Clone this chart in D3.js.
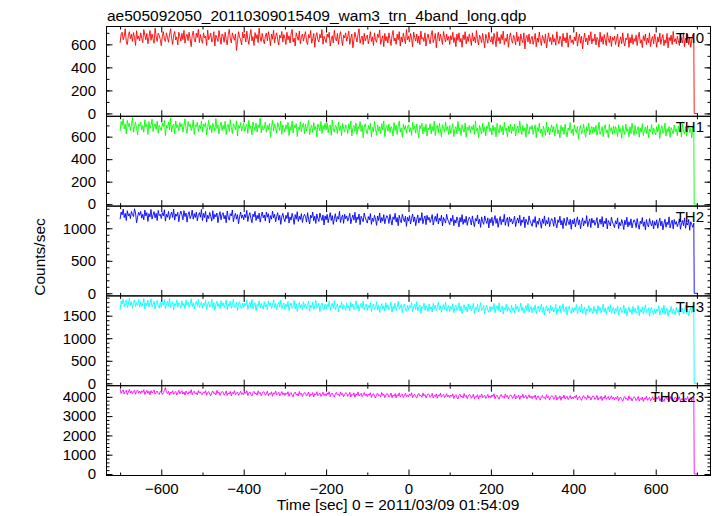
<!DOCTYPE html>
<html><head><meta charset="utf-8">
<script src="https://cdn.jsdelivr.net/npm/d3@7"></script>
<style>
body{margin:0;background:#fff}
svg{display:block}
</style></head>
<body><svg id="c" width="717" height="516"></svg>
<script>
const title = "ae505092050_20110309015409_wam3_trn_4band_long.qdp";
const xLabel = "Time [sec] 0 = 2011/03/09 01:54:09";
const yLabel = "Counts/sec";
const bands = ["TH0", "TH1", "TH2", "TH3", "TH0123"];
const colors = ["#ff0000", "#00ff00", "#0000ff", "#00ffff", "#ff00ff"];

// light-curve bins: start -700 s, 2.5 s apart; the last two values (0) are the drop at the end
const binStart = -700, binStep = 2.5, tailTimes = [693.5, 702];

const th0 = [
612,690,705,640,668,735,622,598,675,710,650,688,625,702,660,590,718,645,672,630,
700,655,615,728,680,640,695,605,662,720,635,690,648,610,740,665,625,698,678,642,
588,672,710,645,625,700,660,618,690,735,652,600,680,712,638,665,595,705,670,628,
695,640,722,610,668,688,632,705,650,580,675,715,645,620,698,660,730,615,685,640,
610,700,655,672,590,725,640,662,698,620,645,710,585,680,655,625,720,660,600,690,
672,618,705,640,595,685,730,650,612,700,662,635,690,548,628,710,665,640,595,705,
655,690,620,715,645,600,680,728,630,668,590,702,650,685,615,740,660,625,695,640,
605,672,698,630,710,658,588,690,645,722,615,668,700,638,595,680,655,712,620,685,
650,598,705,640,675,612,690,730,620,655,585,700,668,635,715,605,660,690,628,672,
710,630,598,685,655,720,610,648,695,575,668,702,640,620,688,655,728,600,670,645,
615,690,660,705,585,640,675,612,722,650,630,695,600,668,710,642,590,680,655,700,
628,668,715,600,652,690,570,640,705,660,620,685,735,610,648,672,598,695,630,660,
680,605,650,710,625,665,590,700,640,618,690,660,725,600,645,675,580,695,630,668,
612,700,645,590,675,720,630,655,600,688,640,710,585,665,620,698,650,605,728,640,
670,620,695,648,580,705,660,628,690,612,672,598,715,645,660,625,700,585,655,690,
640,605,680,720,615,650,695,570,665,705,628,688,645,600,712,658,620,690,635,668,
598,675,640,705,615,660,580,690,635,700,620,652,575,682,640,710,605,668,625,690,
650,590,700,628,665,612,720,640,595,680,655,615,695,632,570,688,650,610,705,640,
620,668,600,695,645,580,710,630,662,605,685,640,715,598,652,625,690,575,660,700,
635,610,680,650,595,705,625,668,588,690,642,615,700,560,655,678,620,690,605,648,
670,600,640,695,580,655,618,708,635,590,678,650,610,690,568,640,700,625,660,598,
685,620,650,592,710,638,605,672,645,580,695,628,660,612,700,575,650,680,615,640,
600,665,630,705,585,648,690,610,670,560,640,698,622,655,595,680,632,710,605,650,
628,690,595,660,640,575,705,620,668,600,685,638,590,702,650,615,672,582,660,635,
672,598,645,690,580,630,665,605,700,620,585,655,640,695,575,660,612,685,600,650,
625,680,590,660,705,610,640,572,675,632,690,598,655,615,700,580,645,668,605,690,
640,575,665,620,698,600,652,685,588,640,610,695,570,660,630,680,598,712,622,650,
605,670,630,590,688,645,612,700,580,655,625,690,598,660,575,640,685,615,
0,0];

const th1 = [
650,735,700,760,668,712,625,745,690,720,655,705,770,640,688,730,672,615,710,695,
728,660,698,640,750,685,710,620,735,672,700,755,645,690,715,665,738,630,700,680,
655,720,690,745,610,700,675,730,660,765,640,695,712,625,740,680,705,650,725,688,
715,640,700,758,670,628,735,690,712,655,680,748,620,705,690,728,645,700,672,740,
640,712,690,725,615,680,745,660,700,635,720,685,650,760,672,705,625,690,730,655,
700,665,738,620,690,710,645,752,680,628,715,690,660,740,605,700,675,725,650,690,
722,648,685,710,630,745,670,695,615,730,688,655,720,640,705,680,765,635,698,660,
675,730,640,700,662,718,598,690,745,650,712,678,630,725,690,655,738,620,705,680,
640,705,670,728,610,690,655,740,632,700,678,715,600,685,660,730,645,695,720,625,
710,650,690,745,618,675,700,638,725,660,690,598,712,680,650,735,628,700,665,720,
660,722,635,690,705,612,748,670,640,700,685,625,730,655,695,610,718,672,640,705,
690,628,712,665,740,605,680,700,648,722,620,690,670,735,645,702,590,685,715,650,
625,700,660,720,598,685,645,735,670,612,705,650,690,628,715,660,740,600,680,700,
648,712,635,690,668,605,725,655,700,620,688,740,640,675,595,710,662,698,630,685,
705,640,680,612,728,665,695,630,712,650,590,700,672,720,625,688,645,710,605,678,
660,715,625,690,648,738,610,680,700,635,720,660,598,705,675,640,730,655,690,620,
700,630,672,715,600,665,690,625,735,650,680,610,705,668,640,722,595,685,655,700,
635,690,660,705,620,740,648,675,590,700,660,625,718,640,688,608,695,670,730,645,
678,615,702,650,685,598,720,660,632,705,645,690,615,728,655,675,600,695,640,710,
625,688,650,712,605,670,695,635,740,660,618,700,648,680,595,715,655,625,690,665,
700,620,665,705,590,680,645,720,630,668,600,695,655,612,730,640,685,615,670,705,
640,690,608,672,715,625,660,588,700,650,685,620,710,642,598,678,655,725,630,668,
610,705,660,635,690,580,672,700,625,655,712,640,595,688,650,720,615,665,690,630,
685,640,700,612,665,728,620,650,690,600,675,705,635,660,590,710,648,680,622,695,
632,690,655,600,705,640,672,585,698,650,620,712,645,670,598,688,630,720,660,612,
700,625,660,690,595,678,640,715,610,655,685,628,700,590,668,645,708,620,675,650,
615,690,640,710,585,665,698,630,650,720,605,672,640,690,595,680,655,625,705,645,
670,610,695,640,680,598,712,650,625,688,605,660,700,635,672,590,685,645,
0,0];

const th2 = [
1140,1250,1205,1295,1165,1230,1120,1270,1190,1225,1150,1260,1210,1180,1300,1235,1085,1170,1245,1200,
1260,1155,1215,1130,1280,1190,1240,1105,1225,1175,1290,1140,1205,1255,1160,1230,1120,1275,1195,1215,
1150,1240,1190,1285,1110,1215,1170,1260,1135,1200,1250,1165,1295,1125,1220,1185,1245,1100,1210,1265,
1205,1130,1270,1180,1235,1095,1210,1255,1150,1190,1280,1140,1225,1165,1250,1115,1200,1240,1170,1290,
1120,1230,1165,1260,1095,1200,1150,1245,1180,1110,1270,1140,1215,1175,1235,1085,1190,1255,1130,1210,
1240,1145,1200,1085,1265,1170,1125,1225,1190,1280,1100,1185,1230,1140,1210,1070,1175,1250,1155,1205,
1130,1215,1165,1275,1105,1190,1240,1150,1085,1220,1175,1260,1120,1200,1145,1235,1095,1185,1250,1160,
1205,1110,1250,1170,1225,1080,1195,1140,1265,1160,1215,1100,1180,1240,1125,1200,1060,1175,1230,1150,
1100,1200,1150,1245,1080,1175,1125,1230,1160,1060,1210,1140,1255,1105,1185,1135,1225,1090,1170,1215,
1180,1095,1240,1140,1065,1200,1160,1250,1115,1185,1075,1220,1150,1105,1235,1165,1120,1205,1050,1190,
1130,1215,1085,1170,1240,1120,1195,1060,1155,1225,1100,1180,1140,1260,1090,1165,1205,1075,1215,1145,
1190,1110,1160,1230,1070,1150,1205,1125,1245,1085,1175,1135,1220,1055,1185,1145,1100,1235,1160,1120,
1080,1180,1130,1225,1060,1155,1105,1200,1140,1045,1190,1120,1235,1085,1165,1110,1210,1070,1150,1195,
1160,1075,1215,1120,1050,1175,1135,1230,1095,1165,1040,1200,1125,1085,1215,1145,1100,1185,1030,1170,
1110,1195,1065,1150,1220,1100,1175,1040,1135,1205,1080,1160,1120,1240,1070,1145,1190,1055,1200,1125,
1170,1090,1140,1210,1050,1130,1185,1105,1225,1065,1155,1115,1200,1035,1165,1125,1080,1215,1140,1100,
1055,1155,1105,1200,1040,1130,1080,1175,1115,1020,1165,1095,1210,1060,1140,1085,1185,1045,1125,1170,
1135,1050,1190,1095,1025,1150,1110,1205,1070,1140,1015,1175,1100,1060,1190,1120,1075,1160,1005,1145,
1085,1170,1040,1125,1195,1075,1150,1015,1110,1180,1055,1135,1095,1215,1045,1120,1165,1030,1175,1100,
1145,1065,1115,1185,1025,1105,1160,1080,1200,1040,1130,1090,1175,1010,1140,1100,1055,1190,1115,1075,
1030,1135,1085,1180,1015,1110,1060,1155,1095,1000,1145,1075,1190,1040,1120,1065,1165,1025,1105,1150,
1115,1030,1170,1075,1005,1130,1090,1185,1050,1120,995,1155,1080,1040,1170,1100,1055,1140,985,1125,
1065,1150,1020,1105,1175,1055,1130,995,1090,1160,1035,1115,1075,1195,1025,1100,1145,1010,1155,1080,
1125,1045,1095,1165,1005,1085,1140,1060,1180,1020,1110,1070,1155,990,1120,1080,1035,1170,1095,1055,
1010,1115,1065,1160,995,1090,1040,1135,1075,980,1125,1055,1170,1020,1100,1045,1145,1005,1085,1130,
1095,1010,1150,1055,985,1110,1070,1165,1030,1100,975,1135,1060,1020,1150,1080,1035,1120,990,1105,
1045,1130,1000,1085,1155,1035,1110,975,1070,1140,1015,1095,1055,1175,1005,1080,1125,990,1135,1060,
1105,1025,1075,1145,985,1065,1120,1040,1160,1000,1090,1050,1135,970,1100,1060,1015,1080,
0,0];

const th3 = [
1625,1820,1760,1870,1700,1790,1845,1680,1750,1885,1720,1810,1665,1775,1850,1705,1790,1730,1860,1690,
1800,1705,1760,1880,1650,1785,1725,1840,1690,1770,1875,1700,1745,1820,1640,1780,1835,1715,1670,1800,
1690,1795,1735,1860,1660,1760,1820,1705,1885,1675,1750,1810,1630,1770,1725,1850,1690,1790,1740,1665,
1830,1715,1770,1655,1845,1730,1800,1685,1755,1875,1700,1790,1650,1760,1820,1710,1865,1680,1745,1800,
1665,1780,1720,1840,1640,1755,1810,1690,1735,1860,1675,1790,1620,1745,1820,1700,1770,1655,1835,1715,
1790,1680,1745,1850,1625,1760,1705,1825,1665,1740,1865,1690,1730,1800,1615,1755,1810,1695,1650,1780,
1675,1775,1720,1845,1640,1740,1800,1685,1860,1655,1730,1790,1610,1750,1705,1830,1670,1770,1720,1645,
1810,1695,1750,1630,1825,1710,1785,1660,1735,1855,1680,1770,1625,1740,1800,1690,1845,1655,1725,1780,
1640,1755,1695,1815,1615,1730,1785,1665,1710,1835,1650,1765,1595,1720,1795,1675,1745,1630,1810,1690,
1765,1655,1720,1825,1600,1735,1680,1800,1640,1715,1840,1665,1705,1775,1590,1730,1785,1670,1625,1755,
1650,1750,1695,1820,1615,1715,1775,1660,1835,1630,1705,1765,1585,1725,1680,1805,1645,1745,1695,1620,
1785,1670,1725,1605,1800,1685,1760,1635,1710,1830,1655,1745,1600,1715,1775,1665,1820,1630,1700,1755,
1615,1730,1670,1790,1590,1705,1760,1640,1685,1810,1625,1740,1570,1695,1770,1650,1720,1605,1785,1665,
1740,1630,1695,1800,1575,1710,1655,1775,1615,1690,1815,1640,1680,1750,1565,1705,1760,1645,1600,1730,
1625,1725,1670,1795,1590,1690,1750,1635,1810,1605,1680,1740,1560,1700,1655,1780,1620,1720,1670,1595,
1760,1645,1700,1580,1775,1660,1735,1610,1685,1805,1630,1720,1575,1690,1750,1640,1795,1605,1675,1730,
1590,1705,1645,1765,1565,1680,1735,1615,1660,1785,1600,1715,1545,1670,1745,1625,1695,1580,1760,1640,
1715,1605,1670,1775,1550,1685,1630,1750,1590,1665,1790,1615,1655,1725,1540,1680,1735,1620,1575,1705,
1600,1700,1645,1770,1565,1665,1725,1610,1785,1580,1655,1715,1535,1675,1630,1755,1595,1695,1645,1570,
1735,1620,1675,1555,1750,1635,1710,1585,1660,1780,1605,1695,1550,1665,1725,1615,1770,1580,1650,1705,
1565,1680,1620,1740,1540,1655,1710,1590,1635,1760,1575,1690,1520,1645,1720,1600,1670,1555,1735,1615,
1690,1580,1645,1750,1525,1660,1605,1725,1565,1640,1765,1590,1630,1700,1515,1655,1710,1595,1550,1680,
1575,1675,1620,1745,1540,1640,1700,1585,1760,1555,1630,1690,1510,1650,1605,1730,1570,1670,1620,1545,
1710,1595,1650,1530,1725,1610,1685,1560,1635,1755,1580,1670,1525,1640,1700,1590,1745,1555,1625,1680,
1540,1655,1595,1715,1515,1630,1685,1565,1610,1735,1550,1665,1495,1620,1695,1575,1645,1530,1710,1590,
1665,1555,1620,1725,1500,1635,1580,1700,1540,1615,1740,1565,1605,1675,1490,1630,1685,1570,1525,1655,
1550,1650,1595,1720,1515,1615,1675,1560,1735,1530,1605,1665,1485,1625,1580,1705,1545,1645,1595,1520,
1685,1570,1625,1505,1700,1585,1660,1535,1610,1730,1555,1645,1500,1615,1675,1565,1720,1590,
0,0];

const th0123 = [
4390,4170,4290,4360,4140,4265,4330,4110,4240,4380,4195,4305,4160,4255,4345,4130,4280,4350,4185,4300,
4155,4310,4225,4370,4120,4250,4335,4175,4290,4100,4320,4200,4265,4355,4135,4230,4300,4170,4115,4285,
4260,4120,4210,4330,4480,4230,4160,4290,4085,4250,4180,4320,4130,4220,4280,4095,4200,4340,4150,4245,
4315,4140,4250,4095,4300,4205,4130,4270,4180,4365,4110,4240,4290,4150,4215,4100,4325,4190,4255,4135,
4120,4255,4185,4320,4080,4215,4275,4140,4050,4230,4300,4160,4205,4095,4335,4175,4245,4070,4195,4280,
4245,4090,4175,4305,4060,4200,4140,4275,4045,4225,4155,4315,4105,4185,4255,4075,4170,4290,4120,4210,
4110,4260,4175,4320,4065,4195,4250,4125,4040,4215,4285,4150,4190,4085,4310,4160,4230,4055,4180,4265,
4230,4080,4160,4290,4050,4185,4125,4260,4030,4210,4140,4300,4095,4170,4240,4060,4155,4275,4105,4200,
4070,4200,4130,4265,4025,4160,4220,4085,3995,4175,4245,4105,4150,4040,4280,4120,4190,4015,4140,4225,
4190,4035,4120,4250,4005,4145,4085,4220,3990,4170,4100,4260,4050,4130,4200,4020,4115,4235,4065,4155,
4055,4205,4120,4265,4010,4140,4195,4070,3985,4160,4230,4095,4135,4030,4255,4105,4175,4000,4125,4210,
4175,4025,4105,4235,3995,4130,4070,4205,3975,4155,4085,4245,4040,4115,4185,4005,4100,4220,4050,4145,
4015,4145,4075,4210,3970,4105,4165,4030,3940,4120,4190,4050,4095,3985,4225,4065,4135,3960,4085,4170,
4135,3980,4065,4195,3950,4090,4030,4165,3935,4115,4045,4205,3995,4075,4145,3965,4060,4180,4010,4100,
4000,4150,4065,4210,3955,4085,4140,4015,3930,4105,4175,4040,4080,3975,4200,4050,4120,3945,4070,4155,
4120,3970,4050,4180,3940,4075,4015,4150,3920,4100,4030,4190,3985,4060,4130,3950,4045,4165,3995,4090,
3960,4090,4020,4155,3915,4050,4110,3975,3885,4065,4135,3995,4040,3930,4170,4010,4080,3905,4030,4115,
4080,3925,4010,4140,3895,4035,3975,4110,3880,4060,3990,4150,3940,4020,4090,3910,4005,4125,3955,4045,
3945,4095,4010,4155,3900,4030,4085,3960,3875,4050,4120,3985,4025,3920,4145,3995,4065,3890,4015,4100,
4065,3915,3995,4125,3885,4020,3960,4095,3865,4045,3975,4135,3930,4005,4075,3895,3990,4110,3940,4035,
3900,4030,3960,4095,3855,3990,4050,3915,3825,4005,4075,3935,3980,3870,4110,3950,4020,3845,3970,4055,
4020,3865,3950,4080,3835,3975,3915,4050,3820,4000,3930,4090,3880,3960,4030,3850,3945,4065,3895,3985,
3885,4035,3950,4095,3840,3970,4025,3900,3815,3990,4060,3925,3965,3860,4085,3935,4005,3830,3955,4040,
4005,3855,3935,4065,3825,3960,3900,4035,3805,3985,3915,4075,3870,3945,4015,3835,3930,4050,3880,3975,
3840,3970,3900,4035,3795,3930,3990,3855,3765,3945,4015,3875,3920,3810,4050,3890,3960,3785,3910,3995,
3960,3805,3890,4020,3775,3915,3855,3990,3760,3940,3870,4030,3820,3900,3970,3790,3885,4005,3835,3925,
3825,3975,3890,4035,3780,3910,3965,3840,3755,3930,4000,3865,3905,3800,4025,3875,3945,3770,3895,3980,
3945,3795,3875,4005,3765,3900,3840,3975,3750,3925,3855,4015,3810,3890,3960,3780,3870,3990,
0,0];

const series = [th0, th1, th2, th3, th0123];

const xTickLabels = [-600, -400, -200, 0, 200, 400, 600];
const xMinorTicks = [-700, -500, -300, -100, 100, 300, 500, 700];
const yTickLabels = [
  [0, 200, 400, 600],
  [0, 200, 400, 600],
  [0, 500, 1000],
  [0, 500, 1000, 1500],
  [0, 1000, 2000, 3000, 4000]
];
const yMinorSteps = [100, 100, 100, 100, 200];
const yDomains = [[-25, 755], [-17, 781], [-40, 1341], [-53, 1939], [-78, 4575]];
const xDomain = [-733, 733];

// ---------- drawing ----------
const FONT = '"Liberation Sans", Arial, Helvetica, sans-serif';
const svg = d3.select("#c");
const pLeft = 106.5, pRight = 710.5, pTop = 26.5, pBottom = 475.5;
const nP = series.length;
const pH = (pBottom - pTop) / nP;

const x = d3.scaleLinear().domain(xDomain).range([pLeft, pRight]);

function toPoints(vals) {
  const n = vals.length, m = tailTimes.length;
  return vals.map((v, i) => {
    const t = i < n - m ? binStart + binStep * i : tailTimes[i - (n - m)];
    return [t, v];
  });
}

function styleAxis(g) {
  g.attr("font-family", FONT).attr("font-size", 15);
  g.select(".domain").remove();
  g.selectAll(".tick line").attr("stroke", "#000").attr("stroke-width", 1);
  g.selectAll(".tick text").attr("fill", "#000");
}

series.forEach((vals, k) => {
  const y0 = pTop + k * pH, y1 = pTop + (k + 1) * pH;
  const y = d3.scaleLinear().domain(yDomains[k]).range([y1, y0]);
  const dom = yDomains[k];
  const minors = d3.range(Math.ceil(dom[0] / yMinorSteps[k]) * yMinorSteps[k], dom[1], yMinorSteps[k]);

  const g = svg.append("g");

  const line = d3.line().x(d => x(d[0])).y(d => y(d[1]));
  g.append("path").datum(toPoints(vals))
    .attr("d", line).attr("fill", "none")
    .attr("stroke", colors[k]).attr("stroke-width", 0.9);

  g.append("g").attr("transform", `translate(${pLeft},0)`)
    .call(d3.axisLeft(y).tickValues(minors).tickSize(-3).tickFormat("")).call(styleAxis);
  g.append("g").attr("transform", `translate(${pLeft},0)`)
    .call(d3.axisLeft(y).tickValues(yTickLabels[k]).tickSize(-6).tickPadding(10.5).tickFormat(d3.format("d")))
    .call(styleAxis);
  g.append("g").attr("transform", `translate(${pRight},0)`)
    .call(d3.axisRight(y).tickValues(minors).tickSize(-3).tickFormat("")).call(styleAxis);
  g.append("g").attr("transform", `translate(${pRight},0)`)
    .call(d3.axisRight(y).tickValues(yTickLabels[k]).tickSize(-6).tickFormat("")).call(styleAxis);

  g.append("g").attr("transform", `translate(0,${y0})`)
    .call(d3.axisTop(x).tickValues(xMinorTicks).tickSize(-3).tickFormat("")).call(styleAxis);
  g.append("g").attr("transform", `translate(0,${y0})`)
    .call(d3.axisTop(x).tickValues(xTickLabels).tickSize(-6).tickFormat("")).call(styleAxis);
  g.append("g").attr("transform", `translate(0,${y1})`)
    .call(d3.axisBottom(x).tickValues(xMinorTicks).tickSize(-3).tickFormat("")).call(styleAxis);
  g.append("g").attr("transform", `translate(0,${y1})`)
    .call(d3.axisBottom(x).tickValues(xTickLabels).tickSize(-6).tickPadding(7.5)
      .tickFormat(k === nP - 1 ? d3.format("d") : ""))
    .call(styleAxis);

  g.append("rect").attr("x", pLeft).attr("y", y0).attr("width", pRight - pLeft).attr("height", pH)
    .attr("fill", "none").attr("stroke", "#000").attr("stroke-width", 1);

  g.append("text").attr("x", 704).attr("y", y0 + 16)
    .attr("text-anchor", "end").attr("font-family", FONT).attr("font-size", 15)
    .attr("fill", "#000").text(bands[k]);
});

svg.append("text").attr("x", 107).attr("y", 20.5).attr("font-family", FONT)
  .attr("font-size", 15.5).attr("fill", "#000").text(title);
svg.append("text").attr("x", 398).attr("y", 510).attr("text-anchor", "middle")
  .attr("font-family", FONT).attr("font-size", 15.5).attr("fill", "#000").text(xLabel);
svg.append("text").attr("transform", "translate(45,257) rotate(-90)").attr("text-anchor", "middle")
  .attr("font-family", FONT).attr("font-size", 15.5).attr("fill", "#000").text(yLabel);
</script></body></html>
